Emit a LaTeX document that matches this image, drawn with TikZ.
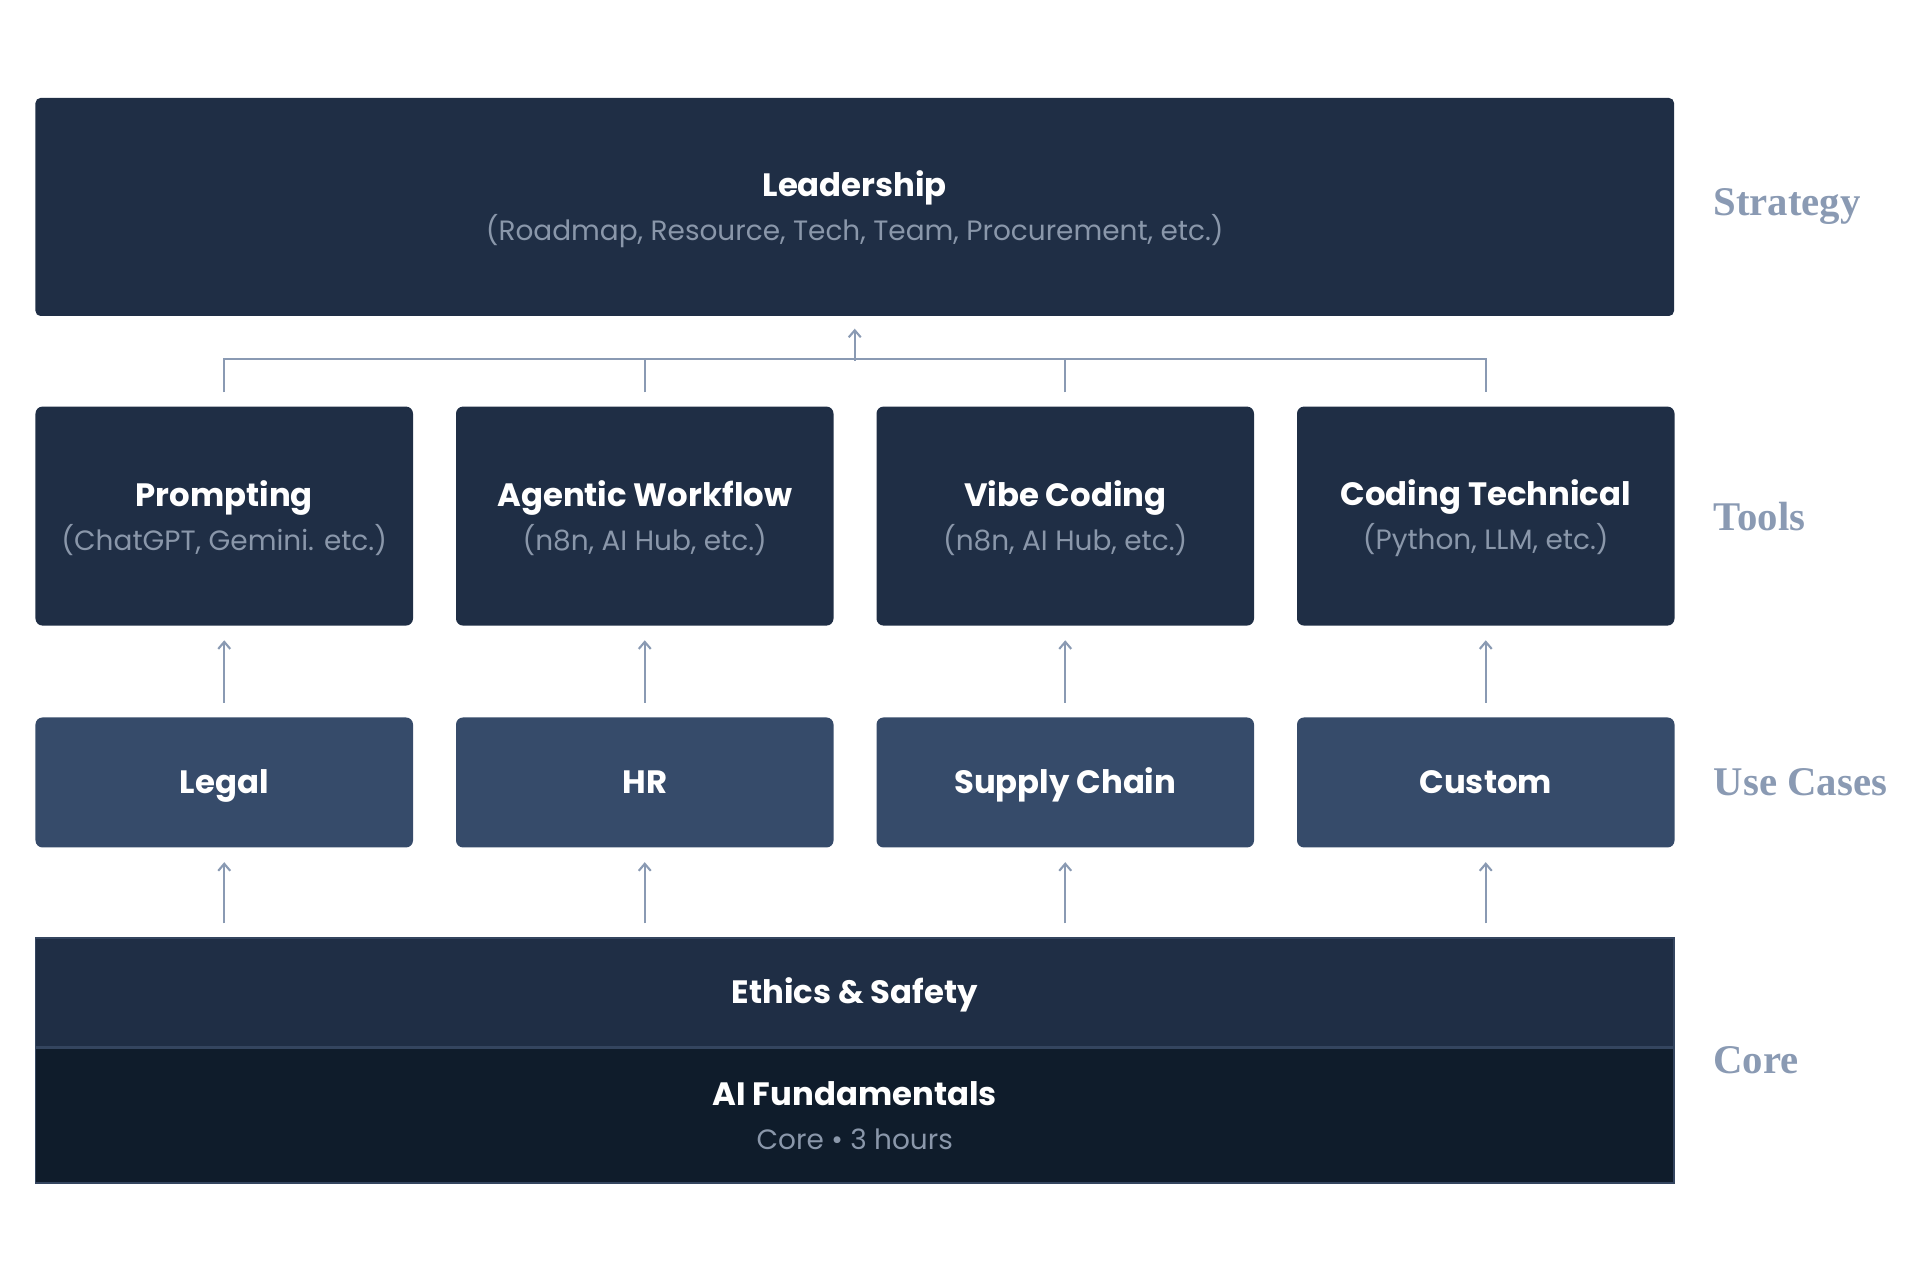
\documentclass[tikz,border=0pt]{standalone}
\usepackage{fontspec}
\setmainfont{Poppins}
\newfontfamily\sidefont{Liberation Serif}
\usepackage{tikz}
\usetikzlibrary{arrows.meta,positioning,calc}
\definecolor{navy}{HTML}{1F2E45}
\definecolor{slate}{HTML}{364B6A}
\definecolor{ink}{HTML}{0F1C2B}
\definecolor{edge}{HTML}{34455F}
\definecolor{mute}{HTML}{8A97AA}
\definecolor{wire}{HTML}{8A9AB3}
\newcommand\boxtitle[1]{{\fontsize{9.2}{12.5}\selectfont\bfseries\vphantom{(}#1}}
\newcommand\boxnote[1]{{\fontsize{7.95}{12.5}\selectfont\color{mute}\vphantom{(}#1}}
\tikzset{
  >={Straight Barb[length=0.7mm,width=1.2mm]},
  card/.style={fill=navy,rounded corners=0.7mm,inner sep=0pt,align=center,text=white,
    font=\fontsize{7.95}{12.5}\selectfont},
  lead/.style={card,minimum width=163.85mm,minimum height=21.8mm,rounded corners=0.5mm},
  tool/.style={card,minimum width=37.75mm,minimum height=21.9mm},
  oneline/.style={text height=2.3mm,text depth=0pt},
  usecase/.style={card,oneline,fill=slate,minimum width=37.75mm,minimum height=13mm},
  band/.style={card,draw=edge,line width=0.4pt,rounded corners=0pt,minimum width=163.85mm},
  side/.style={font=\sidefont\bfseries\fontsize{11.6}{14}\selectfont,text=wire,inner sep=0pt},
  wireline/.style={draw=wire,line width=0.6pt},
  arr/.style={wireline,->,shorten <=1.4mm,shorten >=1.4mm},
}
\begin{document}
\begin{tikzpicture}[x=1mm,y=1mm]
\useasboundingbox (0,0) rectangle (192,128);
% strategy
\node[lead] (lead) at (85.475,107.3) {\boxtitle{Leadership}\\\boxnote{(Roadmap, Resource, Tech, Team, Procurement, etc.)}};
% tools and use cases
\foreach \i/\tt/\tn/\uc in {1/Prompting/{(ChatGPT, Gemini. etc.)}/Legal,
    2/Agentic Workflow/{(n8n, AI Hub, etc.)}/HR,
    3/Vibe Coding/{(n8n, AI Hub, etc.)}/Supply Chain,
    4/Coding Technical/{(Python, LLM, etc.)}/Custom}{
  \node[tool] (t\i) at ({22.425+(\i-1)*42.05},76.39) {\boxtitle{\tt}\\\boxnote{\tn}};
  \node[usecase] (u\i) at ({22.425+(\i-1)*42.05},49.75) {{\fontsize{9.2}{12.5}\selectfont\bfseries\uc}};
}
% core
\node[band,oneline,fill=navy,minimum height=10.9mm] (eth) at (85.475,28.75) {{\fontsize{9.2}{12.5}\selectfont\bfseries Ethics \& Safety}};
\node[band,fill=ink,minimum height=13.46mm,below=0pt of eth] (fund) {\boxtitle{AI Fundamentals}\\\boxnote{Core • 3 hours}};
% connectors
\coordinate (bus) at ($(lead.south)+(0,-4.4)$);
\draw[wireline] ([yshift=1.35mm]t1.north) |- ([yshift=4.65mm]t4.north) -- ([yshift=1.35mm]t4.north);
\foreach \i in {2,3}
  \draw[wireline] ([yshift=1.35mm]t\i.north) -- ([yshift=4.65mm]t\i.north);
\draw[arr,shorten <=0pt,shorten >=1.2mm] (bus) -- (lead.south);
\foreach \i in {1,...,4}{
  \draw[arr] (u\i.north) -- (t\i.south);
  \draw[arr] (u\i.south |- eth.north) -- (u\i.south);
}
% layer names
\node[side,right=3.8mm of lead] (s1) {Strategy};
\node[side,right=3.8mm of t4] (s2) {Tools};
\node[side,right=3.8mm of u4] (s3) {Use Cases};
\node[side,anchor=west] (s4) at ($(eth.north east)!0.5!(fund.south east)+(3.8,0)$) {Core};
\end{tikzpicture}
\end{document}
